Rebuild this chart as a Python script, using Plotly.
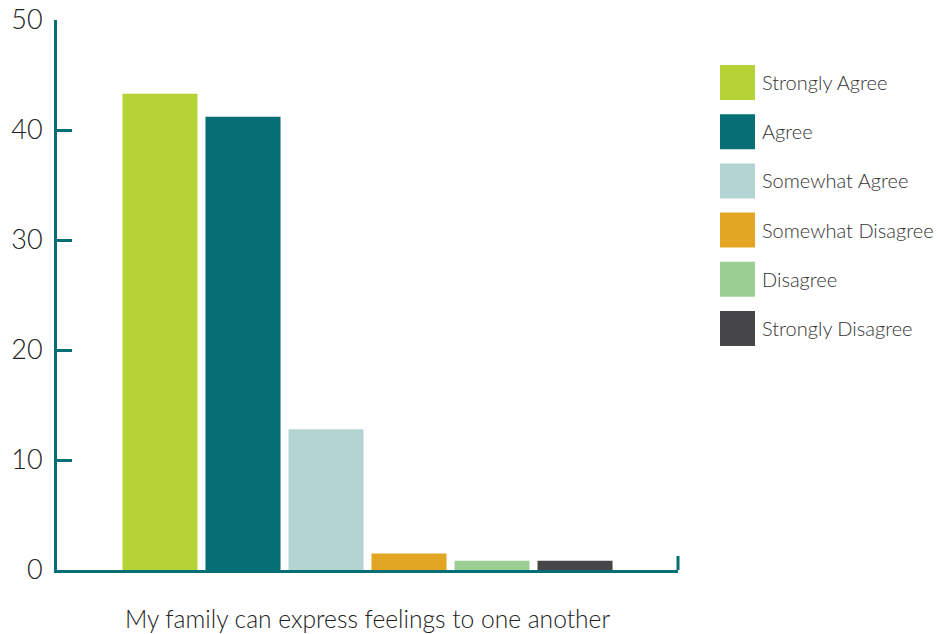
import plotly.graph_objects as go

categories = ["Strongly Agree", "Agree", "Somewhat Agree", "Somewhat Disagree", "Disagree", "Strongly Disagree"]
values = [43.3, 41.2, 12.8, 1.5, 0.85, 0.85]
colors = ["#b5d334", "#066f75", "#b2d4d3", "#e3a524", "#9ccf94", "#464648"]
question = ["My family can express feelings to one another"]
y_ticks = [0, 10, 20, 30, 40, 50]

W, H = 939, 634
L, R, T, B = 57, 678, 20, 570
TEAL = "#066f75"
FONT = "Lato"

def px_x(px):
    return (px - L) / (R - L)

def px_y(py):
    return (B - py) / (B - T)

fig = go.Figure()
for cat, val, col in zip(categories, values, colors):
    fig.add_trace(go.Bar(x=question, y=[val], name=cat, marker=dict(color=col, line=dict(width=0)),
                         showlegend=False))

shapes = []
annotations = []
for i, (cat, col) in enumerate(zip(categories, colors)):
    top = 65 + i * 49.2
    shapes.append(dict(type="rect", xref="paper", yref="paper",
                       x0=px_x(720), x1=px_x(755), y0=px_y(top + 35), y1=px_y(top),
                       fillcolor=col, line=dict(width=0)))
    annotations.append(dict(xref="paper", yref="paper", x=px_x(760), y=px_y(top + 17),
                            text=cat, showarrow=False, xanchor="left", yanchor="middle",
                            font=dict(family=FONT, size=20, color="#333333", weight=300)))
# small end tick on x-axis
shapes.append(dict(type="line", xref="paper", yref="paper", x0=1, x1=1, y0=0, y1=px_y(556),
                   line=dict(color=TEAL, width=3)))

fig.update_layout(
    width=W, height=H,
    margin=dict(l=L, r=W - R, t=T, b=H - B),
    plot_bgcolor="white", paper_bgcolor="white",
    barmode="group", bargap=0.198, bargroupgap=0.096,
    shapes=shapes, annotations=annotations,
    font=dict(family=FONT, color="#333333", weight=300),
)
fig.update_yaxes(range=[0, 50], tickvals=y_ticks, showgrid=False, zeroline=False, automargin=False,
                 showline=True, linecolor=TEAL, linewidth=3,
                 ticks="inside", ticklen=15, tickwidth=3, tickcolor=TEAL,
                 tickfont=dict(family=FONT, size=27, color="#222222", weight=300), ticklabelstandoff=6)
fig.update_xaxes(showgrid=False, showline=True, linecolor=TEAL, linewidth=3, ticks="", automargin=False,
                 tickfont=dict(family=FONT, size=24.6, color="#222222", weight=300), ticklabelstandoff=25)

fig.write_html("out.html")
